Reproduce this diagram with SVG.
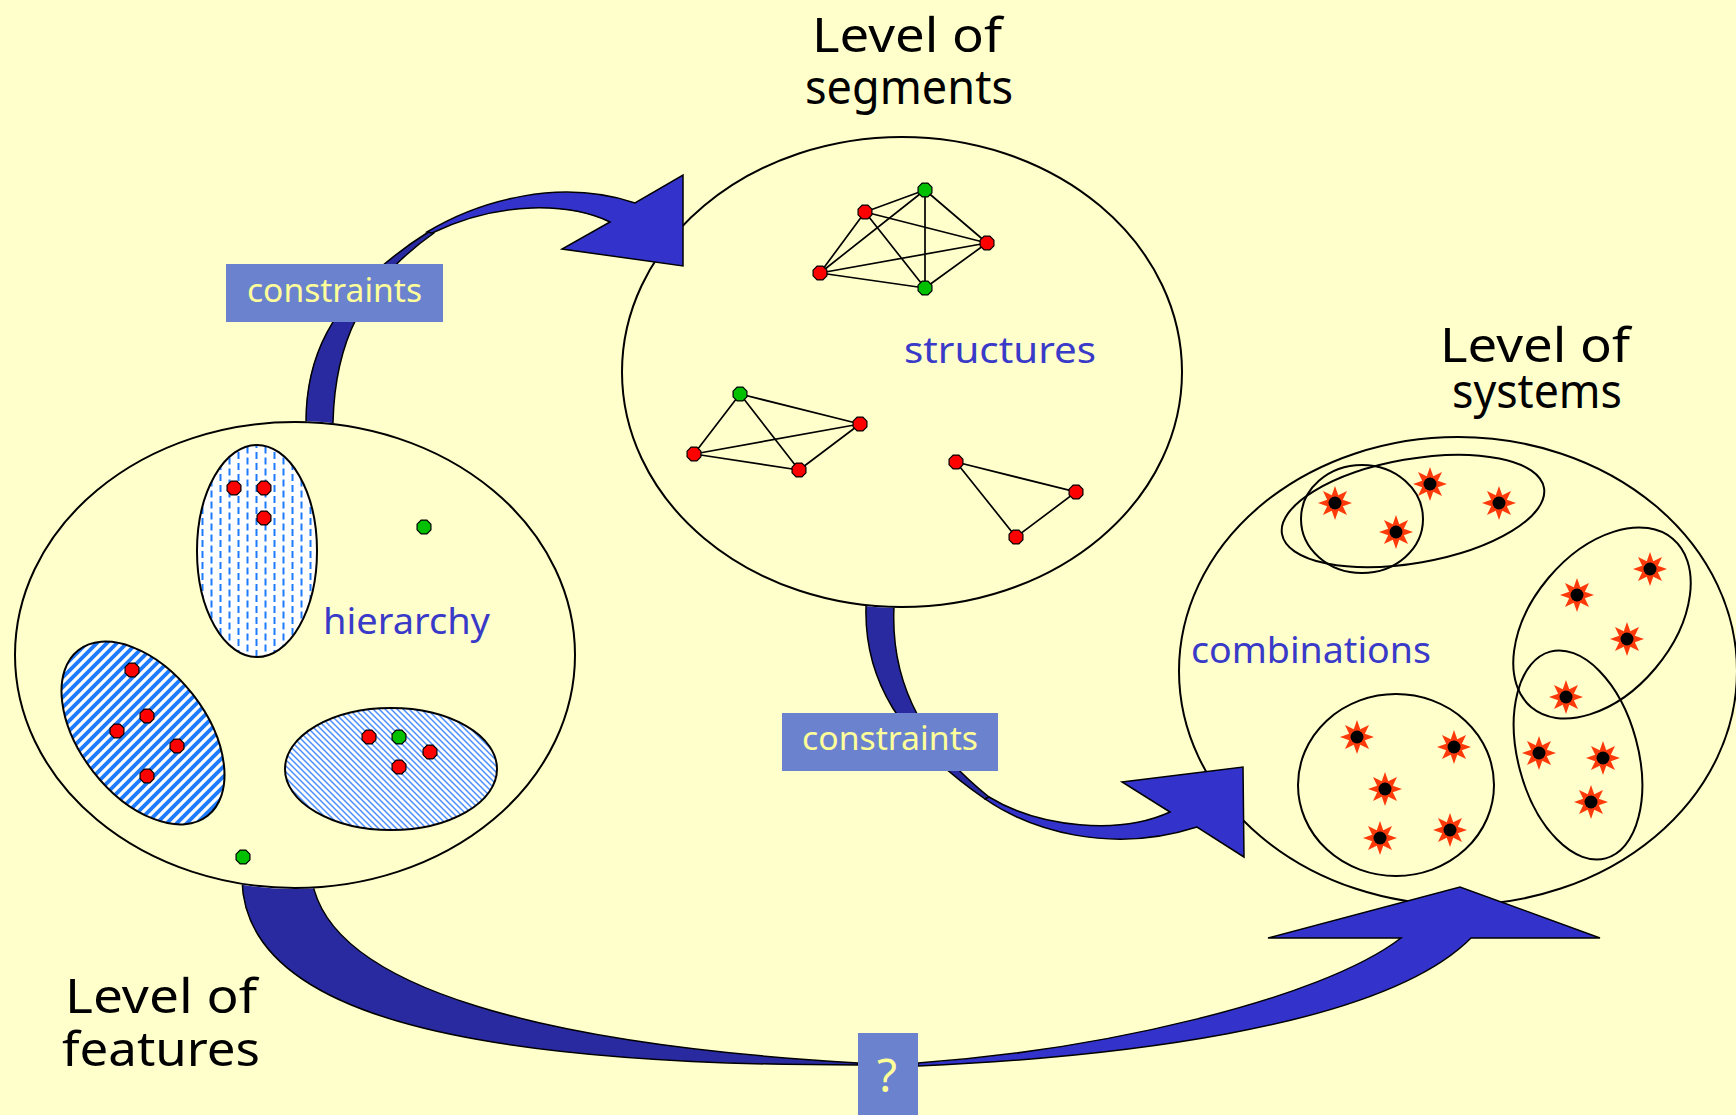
<svg xmlns="http://www.w3.org/2000/svg" width="1736" height="1115" viewBox="0 0 1736 1115">
<style>
.bg{fill:#FFFFCC}
.outer{fill:#FFFFCC;stroke:#000;stroke-width:2}
.inner{fill:none;stroke:#000;stroke-width:2}
.edge{stroke:#000;stroke-width:1.7;fill:none}
.title{font-family:"Noto Sans","DejaVu Sans",sans-serif;font-size:48px;fill:#000}
.lbl{font-family:"Noto Sans","DejaVu Sans",sans-serif;font-size:36px;fill:#3A3AC8}
.box{fill:#6B83CF}
.boxt{font-family:"Noto Sans","DejaVu Sans",sans-serif;font-size:32px;fill:#FFFF99}
.qt{font-family:"Noto Sans","DejaVu Sans",sans-serif;font-size:46px;fill:#FFFF99}
.back{fill:#2A2AA0;stroke:#000;stroke-width:1.5;stroke-linejoin:round}
.front{fill:#3333CC;stroke:#000;stroke-width:1.5;stroke-linejoin:miter}
.rd{fill:#FF0000;stroke:#000;stroke-width:1.2}
.gd{fill:#00C000;stroke:#000;stroke-width:1.2}
.hatch{stroke:#000;stroke-width:2}
</style>
<defs>
<pattern id="pv" width="18" height="22" patternUnits="userSpaceOnUse">
<rect width="18" height="22" fill="#fff"/>
<path d="M4.5,1v7M4.5,12v7M13.5,-4.5v7M13.5,6.5v7M13.5,17.5v7" stroke="#1E7BFF" stroke-width="2"/>
</pattern>
<pattern id="pd" width="10" height="10" patternUnits="userSpaceOnUse">
<rect width="10" height="10" fill="#fff"/>
<path d="M-2,2L2,-2M0,10L10,0M8,12L12,8" stroke="#1E7BFF" stroke-width="3.8"/>
</pattern>
<pattern id="ph" width="6" height="6" patternUnits="userSpaceOnUse">
<rect width="6" height="6" fill="#fff"/>
<path d="M-2,4L2,8M0,0L6,6M4,-2L8,2" stroke="#4A8EFF" stroke-width="1.5"/>
</pattern>
<polygon id="oct" points="6.93,2.87 2.87,6.93 -2.87,6.93 -6.93,2.87 -6.93,-2.87 -2.87,-6.93 2.87,-6.93 6.93,-2.87"/>
<g id="star">
<polygon fill="#FF3A0A" points="0,-17 3.25,-7.85 12.02,-12.02 7.85,-3.25 17,0 7.85,3.25 12.02,12.02 3.25,7.85 0,17 -3.25,7.85 -12.02,12.02 -7.85,3.25 -17,0 -7.85,-3.25 -12.02,-12.02 -3.25,-7.85"/>
<circle r="6.5" fill="#000"/>
</g>
<clipPath id="cl"><path clip-rule="evenodd" d="M0,0H1736V1115H0Z M14,655a281,234 0 1,0 562,0a281,234 0 1,0 -562,0Z"/></clipPath>
<clipPath id="cm"><path clip-rule="evenodd" d="M0,0H1736V1115H0Z M621,372a281,236 0 1,0 562,0a281,236 0 1,0 -562,0Z"/></clipPath>
</defs>

<rect class="bg" x="0" y="0" width="1736" height="1115"/>

<g id="features">
<ellipse class="outer" cx="295" cy="655" rx="280" ry="233"/>
<ellipse class="hatch" cx="257" cy="551" rx="60" ry="106" fill="url(#pv)"/>
<path class="hatch" fill="url(#pd)" d="M78.35,650.26A105,63 52 1,0 207.65,815.74A105,63 52 1,0 78.35,650.26Z"/>
<ellipse class="hatch" cx="391" cy="769" rx="106" ry="61" fill="url(#ph)"/>
<use href="#oct" class="rd" x="234" y="488"/>
<use href="#oct" class="rd" x="264" y="488"/>
<use href="#oct" class="rd" x="264" y="518"/>
<use href="#oct" class="gd" x="424" y="527"/>
<use href="#oct" class="rd" x="132" y="670"/>
<use href="#oct" class="rd" x="147" y="716"/>
<use href="#oct" class="rd" x="117" y="731"/>
<use href="#oct" class="rd" x="177" y="746"/>
<use href="#oct" class="rd" x="147" y="776"/>
<use href="#oct" class="rd" x="369" y="737"/>
<use href="#oct" class="gd" x="399" y="737"/>
<use href="#oct" class="rd" x="430" y="752"/>
<use href="#oct" class="rd" x="399" y="767"/>
<use href="#oct" class="gd" x="243" y="857"/>
<text class="lbl" x="323" y="634" textLength="167" lengthAdjust="spacingAndGlyphs">hierarchy</text>
<text class="title" x="65" y="1013" textLength="192" lengthAdjust="spacingAndGlyphs">Level of</text>
<text class="title" x="62" y="1066" textLength="198" lengthAdjust="spacingAndGlyphs">features</text>
</g>

<g id="segments">
<ellipse class="outer" cx="902" cy="372" rx="280" ry="235"/>
<path class="edge" d="M925,190L865,212M925,190L987,243M925,190L820,273M925,190L925,288M865,212L987,243M865,212L820,273M865,212L925,288M820,273L987,243M820,273L925,288M987,243L925,288"/>
<path class="edge" d="M740,394L860,424M740,394L694,454M740,394L799,470M694,454L860,424M694,454L799,470M799,470L860,424"/>
<path class="edge" d="M956,462L1076,492L1016,537Z"/>
<use href="#oct" class="gd" x="925" y="190"/>
<use href="#oct" class="rd" x="865" y="212"/>
<use href="#oct" class="rd" x="987" y="243"/>
<use href="#oct" class="rd" x="820" y="273"/>
<use href="#oct" class="gd" x="925" y="288"/>
<use href="#oct" class="gd" x="740" y="394"/>
<use href="#oct" class="rd" x="860" y="424"/>
<use href="#oct" class="rd" x="694" y="454"/>
<use href="#oct" class="rd" x="799" y="470"/>
<use href="#oct" class="rd" x="956" y="462"/>
<use href="#oct" class="rd" x="1076" y="492"/>
<use href="#oct" class="rd" x="1016" y="537"/>
<text class="lbl" x="904" y="363" textLength="192" lengthAdjust="spacingAndGlyphs">structures</text>
<text class="title" x="812" y="52" textLength="190" lengthAdjust="spacingAndGlyphs">Level of</text>
<text class="title" x="805" y="104" textLength="208" lengthAdjust="spacingAndGlyphs">segments</text>
</g>

<g id="systems">
<ellipse class="outer" cx="1458" cy="671" rx="279" ry="234"/>
<ellipse class="inner" cx="1413" cy="511" rx="133" ry="52" transform="rotate(-10 1413 511)"/>
<ellipse class="inner" cx="1362" cy="519" rx="61" ry="54"/>
<ellipse class="inner" cx="1602" cy="623" rx="110" ry="70" transform="rotate(-50 1602 623)"/>
<ellipse class="inner" cx="1578" cy="755" rx="107" ry="60" transform="rotate(75 1578 755)"/>
<ellipse class="inner" cx="1396" cy="785" rx="98" ry="91"/>
<use href="#star" x="1335" y="503"/>
<use href="#star" x="1430" y="484"/>
<use href="#star" x="1396" y="532"/>
<use href="#star" x="1499" y="503"/>
<use href="#star" x="1650" y="569"/>
<use href="#star" x="1577" y="595"/>
<use href="#star" x="1627" y="639"/>
<use href="#star" x="1566" y="697"/>
<use href="#star" x="1357" y="737"/>
<use href="#star" x="1454" y="747"/>
<use href="#star" x="1385" y="789"/>
<use href="#star" x="1380" y="838"/>
<use href="#star" x="1450" y="830"/>
<use href="#star" x="1539" y="753"/>
<use href="#star" x="1603" y="758"/>
<use href="#star" x="1591" y="802"/>
<text class="lbl" x="1191" y="663" textLength="240" lengthAdjust="spacingAndGlyphs">combinations</text>
<text class="title" x="1440" y="362" textLength="190" lengthAdjust="spacingAndGlyphs">Level of</text>
<text class="title" x="1452" y="408" textLength="170" lengthAdjust="spacingAndGlyphs">systems</text>
</g>

<g id="connectors">
<path class="back" clip-path="url(#cl)" d="M305,445L306,422C306,370 320,300 430,231L434,233C360,285 335,345 333,422L333,445Z"/>
<path class="front" d="M427,232C480,200 560,178 635,203L683,175L683,266L562,249L610,222C570,203 500,200 432,233Z"/>
<path class="back" clip-path="url(#cm)" d="M866,590L866,607C864,680 900,740 985,799L989,797C930,750 890,690 894,607L894,590Z"/>
<path class="front" d="M985,799C1030,830 1110,855 1197,827L1244,857L1243,767L1122,782L1170,812C1120,835 1040,828 989,797Z"/>
<path class="back" clip-path="url(#cl)" d="M242,870L242,880C245,1010 450,1065 858,1065L858,1063C550,1045 330,990 312,880L312,870Z"/>
<path class="front" d="M918,1066C1100,1058 1380,1030 1471,938L1600,938L1460,887L1268,938L1401,938C1320,1000 1100,1050 918,1063Z"/>
<g id="label-constraints-1">
<rect class="box" x="226" y="264" width="217" height="58"/>
<text class="boxt" x="247" y="302" textLength="175" lengthAdjust="spacingAndGlyphs">constraints</text>
</g>
<g id="label-constraints-2">
<rect class="box" x="782" y="713" width="216" height="58"/>
<text class="boxt" x="802" y="750" textLength="176" lengthAdjust="spacingAndGlyphs">constraints</text>
</g>
<g id="label-question">
<rect class="box" x="858" y="1033" width="60" height="82"/>
<text class="qt" x="887" y="1092" text-anchor="middle">?</text>
</g>
</g>
</svg>
